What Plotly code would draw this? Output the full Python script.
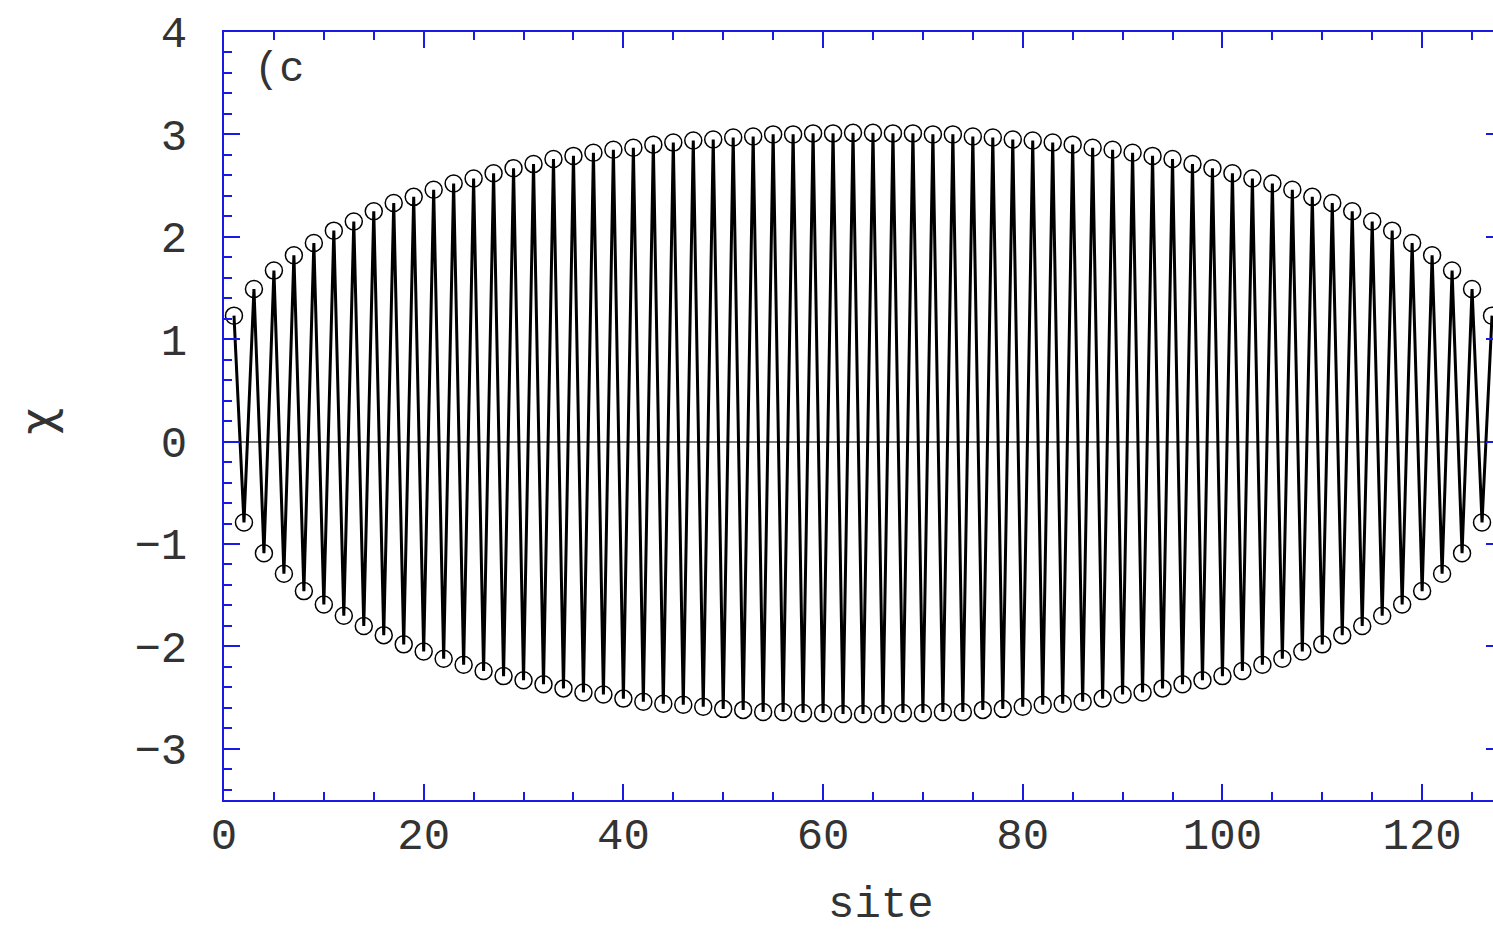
import plotly.graph_objects as go

# chi at odd sites 1,3,...,127 (positive sublattice)
chi_odd = [1.23, 1.49, 1.67, 1.82, 1.94, 2.06, 2.15, 2.25, 2.33, 2.39, 2.46, 2.52,
           2.57, 2.62, 2.67, 2.71, 2.76, 2.79, 2.82, 2.85, 2.87, 2.90, 2.92, 2.94,
           2.95, 2.97, 2.98, 3.00, 3.00, 3.01, 3.01, 3.015,
           3.015, 3.01, 3.01, 3.00, 3.00, 2.98, 2.97, 2.95, 2.94, 2.92, 2.90, 2.87,
           2.85, 2.82, 2.79, 2.76, 2.71, 2.67, 2.62, 2.57, 2.52, 2.46, 2.39, 2.33,
           2.25, 2.15, 2.06, 1.94, 1.82, 1.67, 1.49, 1.23]
# chi at even sites 2,4,...,126 (negative sublattice)
chi_even = [-0.79, -1.09, -1.29, -1.46, -1.59, -1.70, -1.80, -1.89, -1.98, -2.05,
            -2.12, -2.18, -2.24, -2.29, -2.33, -2.37, -2.41, -2.45, -2.47, -2.51,
            -2.54, -2.56, -2.57, -2.59, -2.61, -2.62, -2.64, -2.64, -2.65, -2.65,
            -2.66, -2.66,
            -2.66, -2.65, -2.65, -2.64, -2.64, -2.62, -2.61, -2.59, -2.57, -2.56,
            -2.54, -2.51, -2.47, -2.45, -2.41, -2.37, -2.33, -2.29, -2.24, -2.18,
            -2.12, -2.05, -1.98, -1.89, -1.80, -1.70, -1.59, -1.46, -1.29, -1.09,
            -0.79]

sites = list(range(1, 128))
chi = []
for i in range(len(chi_odd)):
    chi.append(chi_odd[i])
    if i < len(chi_even):
        chi.append(chi_even[i])

x_ticks = [0, 20, 40, 60, 80, 100, 120]
y_ticks = [-3, -2, -1, 0, 1, 2, 3, 4]

FONT = "Liberation Mono"
AX = "#1a1ae6"
TXT = "#333333"

fig = go.Figure()
fig.add_trace(go.Scatter(
    x=sites, y=chi, mode="lines+markers",
    line=dict(color="black", width=3),
    marker=dict(symbol="circle-open", size=17, color="black", line=dict(width=1.5, color="black")),
    cliponaxis=False, showlegend=False,
))

fig.add_annotation(x=0.022, y=0.985, xref="paper", yref="paper", text="(c",
                   showarrow=False, xanchor="left", yanchor="top",
                   font=dict(family=FONT, size=42, color=TXT))
fig.add_annotation(x=0.514, y=-0.137, xref="paper", yref="paper", text="site",
                   showarrow=False, xanchor="center", yanchor="middle",
                   font=dict(family=FONT, size=44, color=TXT))
fig.add_annotation(x=-0.146, y=0.4935, xref="paper", yref="paper", text="χ",
                   showarrow=False, xanchor="center", yanchor="middle", textangle=-90,
                   font=dict(family="DejaVu Sans", size=46, color=TXT))

fig.update_layout(
    width=1505, height=934,
    margin=dict(l=224, r=1, t=32, b=134),
    paper_bgcolor="white", plot_bgcolor="white",
    font=dict(family=FONT, color=TXT),
    xaxis=dict(range=[0, 128], tickvals=x_ticks, ticks="inside", ticklen=16,
               tickwidth=1.5, tickcolor=AX, showline=True, linecolor=AX, linewidth=2,
               mirror="allticks", showgrid=False, zeroline=False,
               tickfont=dict(family=FONT, size=44, color=TXT),
               ticklabelstandoff=-6,
               minor=dict(dtick=5, ticks="inside", ticklen=8, tickcolor=AX, tickwidth=1.5)),
    yaxis=dict(range=[-3.5, 4], tickvals=y_ticks, ticks="inside", ticklen=16,
               tickwidth=1.5, tickcolor=AX, showline=True, linecolor=AX, linewidth=2,
               mirror="allticks", showgrid=False, zeroline=True, zerolinecolor="#777777",
               zerolinewidth=1.5,
               tickfont=dict(family=FONT, size=44, color=TXT),
               ticklabelstandoff=26,
               minor=dict(dtick=0.2, ticks="inside", ticklen=8, tickcolor=AX, tickwidth=1.5)),
)

fig.write_html("out.html", post_script="document.body.style.overflow='hidden';document.documentElement.style.overflow='hidden';")
